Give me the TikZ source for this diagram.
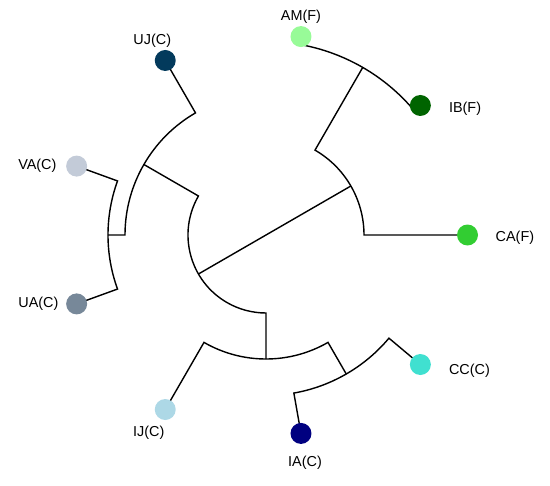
\documentclass[tikz,border=0pt]{standalone}
\usepackage{fontspec}
\setmainfont{Liberation Sans}
\usepackage{tikz}
\usetikzlibrary{positioning, backgrounds}
\definecolor{amgreen}{RGB}{152, 251, 152}
\definecolor{ibgreen}{RGB}{0, 100, 0}
\definecolor{cagreen}{RGB}{50, 205, 50}
\definecolor{ccturquoise}{RGB}{64, 224, 208}
\definecolor{ianavy}{RGB}{0, 0, 128}
\definecolor{ijblue}{RGB}{173, 216, 230}
\definecolor{uagray}{RGB}{119, 136, 153}
\definecolor{vagray}{RGB}{195, 203, 216}
\definecolor{ujblue}{RGB}{3, 58, 92}

\begin{document}
\begin{tikzpicture}[tip/.style={circle, inner sep=0pt, minimum size=0.42cm}, lbl/.style={inner sep=0pt, font=\fontsize{8.2pt}{10pt}\selectfont}, branch/.style={line width=0.8pt}]
    \useasboundingbox (-5.32,-5.00) rectangle (5.68,4.70);
    \node[tip, fill=amgreen] (am) at (80:4.03) {};
    \node[tip, fill=ibgreen] (ib) at (40:4.03) {};
    \node[tip, fill=cagreen] (ca) at (0:4.03) {};
    \node[tip, fill=ccturquoise] (cc) at (320:4.03) {};
    \node[tip, fill=ianavy] (ia) at (280:4.03) {};
    \node[tip, fill=ijblue] (ij) at (240:4.03) {};
    \node[tip, fill=uagray] (ua) at (200:4.03) {};
    \node[tip, fill=vagray] (va) at (160:4.03) {};
    \node[tip, fill=ujblue] (uj) at (120:4.03) {};

    \node[lbl, above=0.04cm of am] (amlabel) {AM(F)};
    \node[lbl, right=0.35cm of ib, yshift=-0.06cm] (iblabel) {IB(F)};
    \node[lbl, right=0.34cm of ca, yshift=-0.06cm] (calabel) {CA(F)};
    \node[lbl, right=0.35cm of cc, yshift=-0.12cm] (cclabel) {CC(C)};
    \node[lbl, below=0.23cm of ia, xshift=0.08cm] (ialabel) {IA(C)};
    \node[lbl, below=0.10cm of ij, xshift=-0.33cm] (ijlabel) {IJ(C)};
    \node[lbl, left=0.14cm of ua] (ualabel) {UA(C)};
    \node[lbl, left=0.18cm of va] (valabel) {VA(C)};
    \node[lbl, above=0.04cm of uj, xshift=-0.26cm] (ujlabel) {UJ(C)};

    \coordinate (a) at (30:1.96);
    \coordinate (b) at (210:1.56);
    \coordinate (ai) at (60:3.87);
    \coordinate (c) at (150:2.82);
    \coordinate (d) at (180:3.16);
    \coordinate (e) at (270:2.48);
    \coordinate (f) at (300:3.21);

    \begin{scope}[on background layer]
    \draw[branch] (b) -- (a);
    \draw[branch] (ca.center) -- (0:1.96) arc[start angle=0, end angle=60, radius=1.96] -- (ai);
    \draw[branch] (ib.center) -- (40:3.87) arc[start angle=40, end angle=80, radius=3.87] -- (am.center);
    \draw[branch] (c) -- (150:1.56) arc[start angle=150, end angle=270, radius=1.56] -- (e);
    \draw[branch] (uj.center) -- (120:2.82) arc[start angle=120, end angle=180, radius=2.82] -- (d);
    \draw[branch] (va.center) -- (160:3.16) arc[start angle=160, end angle=200, radius=3.16] -- (ua.center);
    \draw[branch] (ij.center) -- (240:2.48) arc[start angle=240, end angle=300, radius=2.48] -- (f);
    \draw[branch] (ia.center) -- (280:3.21) arc[start angle=280, end angle=320, radius=3.21] -- (cc.center);
    \end{scope}
\end{tikzpicture}
\end{document}
